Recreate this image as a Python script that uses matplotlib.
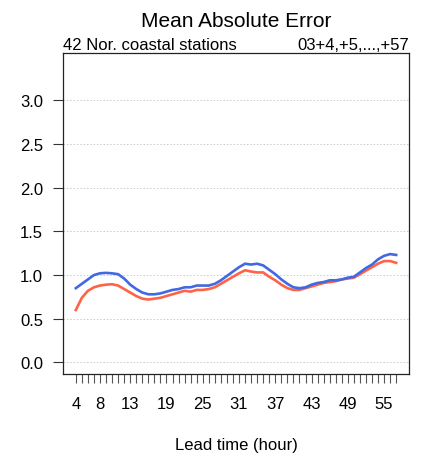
import matplotlib
matplotlib.use("Agg")
import matplotlib.pyplot as plt
import numpy as np

plt.rcParams['font.family'] = ['Liberation Sans', 'DejaVu Sans']

lead_hours = list(range(4, 58))
labelled_hours = [4, 8, 13, 19, 25, 31, 37, 43, 49, 55]
y_ticks = [0.0, 0.5, 1.0, 1.5, 2.0, 2.5, 3.0]

mae_blue = [0.85, 0.90, 0.95, 1.00, 1.02, 1.025, 1.02, 1.01, 0.96, 0.89,
            0.84, 0.80, 0.78, 0.78, 0.79, 0.81, 0.83, 0.84, 0.86, 0.86,
            0.88, 0.88, 0.88, 0.90, 0.94, 0.99, 1.04, 1.09, 1.13, 1.12,
            1.13, 1.11, 1.06, 1.01, 0.95, 0.90, 0.86, 0.85, 0.86, 0.89,
            0.91, 0.92, 0.94, 0.94, 0.95, 0.97, 0.98, 1.03, 1.08, 1.12,
            1.18, 1.22, 1.24, 1.23]
mae_red = [0.60, 0.74, 0.82, 0.86, 0.88, 0.89, 0.895, 0.88, 0.84, 0.80,
           0.76, 0.73, 0.72, 0.73, 0.74, 0.76, 0.78, 0.80, 0.82, 0.81,
           0.83, 0.83, 0.84, 0.86, 0.90, 0.94, 0.98, 1.02, 1.055, 1.04,
           1.03, 1.03, 0.98, 0.94, 0.89, 0.85, 0.83, 0.83, 0.85, 0.87,
           0.89, 0.91, 0.92, 0.93, 0.95, 0.96, 0.97, 1.01, 1.05, 1.09,
           1.13, 1.16, 1.16, 1.14]

title = "Mean Absolute Error"
left_sub = "42 Nor. coastal stations"
right_sub = "03+4,+5,...,+57"
xlabel = "Lead time (hour)"

W, H = 423, 460
box_l, box_r, box_t, box_b = 63, 409, 54, 374.5

fig = plt.figure(figsize=(W/100, H/100), dpi=100)
ax = fig.add_axes([box_l/W, 1-box_b/H, (box_r-box_l)/W, (box_b-box_t)/H])

for yt in y_ticks:
    ax.axhline(yt, color='#c8c8c8', lw=0.6, ls=(0, (2, 2)), zorder=0)

ax.plot(lead_hours, mae_red, color='#FF6347', lw=1.9, zorder=3)
ax.plot(lead_hours, mae_blue, color='#4169E1', lw=1.9, zorder=4)

span = lead_hours[-1] - lead_hours[0]
ax.set_xlim(lead_hours[0] - 0.04*span, lead_hours[-1] + 0.04*span)
ax.set_ylim(-0.126, 3.54)

ax.set_xticks(lead_hours)
ax.set_xticklabels([str(h) if h in labelled_hours else '' for h in lead_hours])
ax.set_yticks(y_ticks)
ax.set_yticklabels([f"{v:.1f}" for v in y_ticks])

ax.tick_params(axis='x', length=6.5, width=0.8, color='#555555', pad=10, labelsize=12, direction='out')
ax.tick_params(axis='y', length=7.3, width=0.8, color='#333333', pad=7, labelsize=12, direction='out')
for s in ax.spines.values():
    s.set_linewidth(0.9)
    s.set_color('#222222')

fig.text((box_l+box_r)/2/W, 1-27/H, title, ha='center', va='baseline', fontsize=15)
fig.text(box_l/W, 1-50/H, left_sub, ha='left', va='baseline', fontsize=12)
fig.text(box_r/W, 1-50/H, right_sub, ha='right', va='baseline', fontsize=12)
fig.text((box_l+box_r)/2/W, 1-450/H, xlabel, ha='center', va='baseline', fontsize=12)

fig.savefig("out.png", dpi=100)
